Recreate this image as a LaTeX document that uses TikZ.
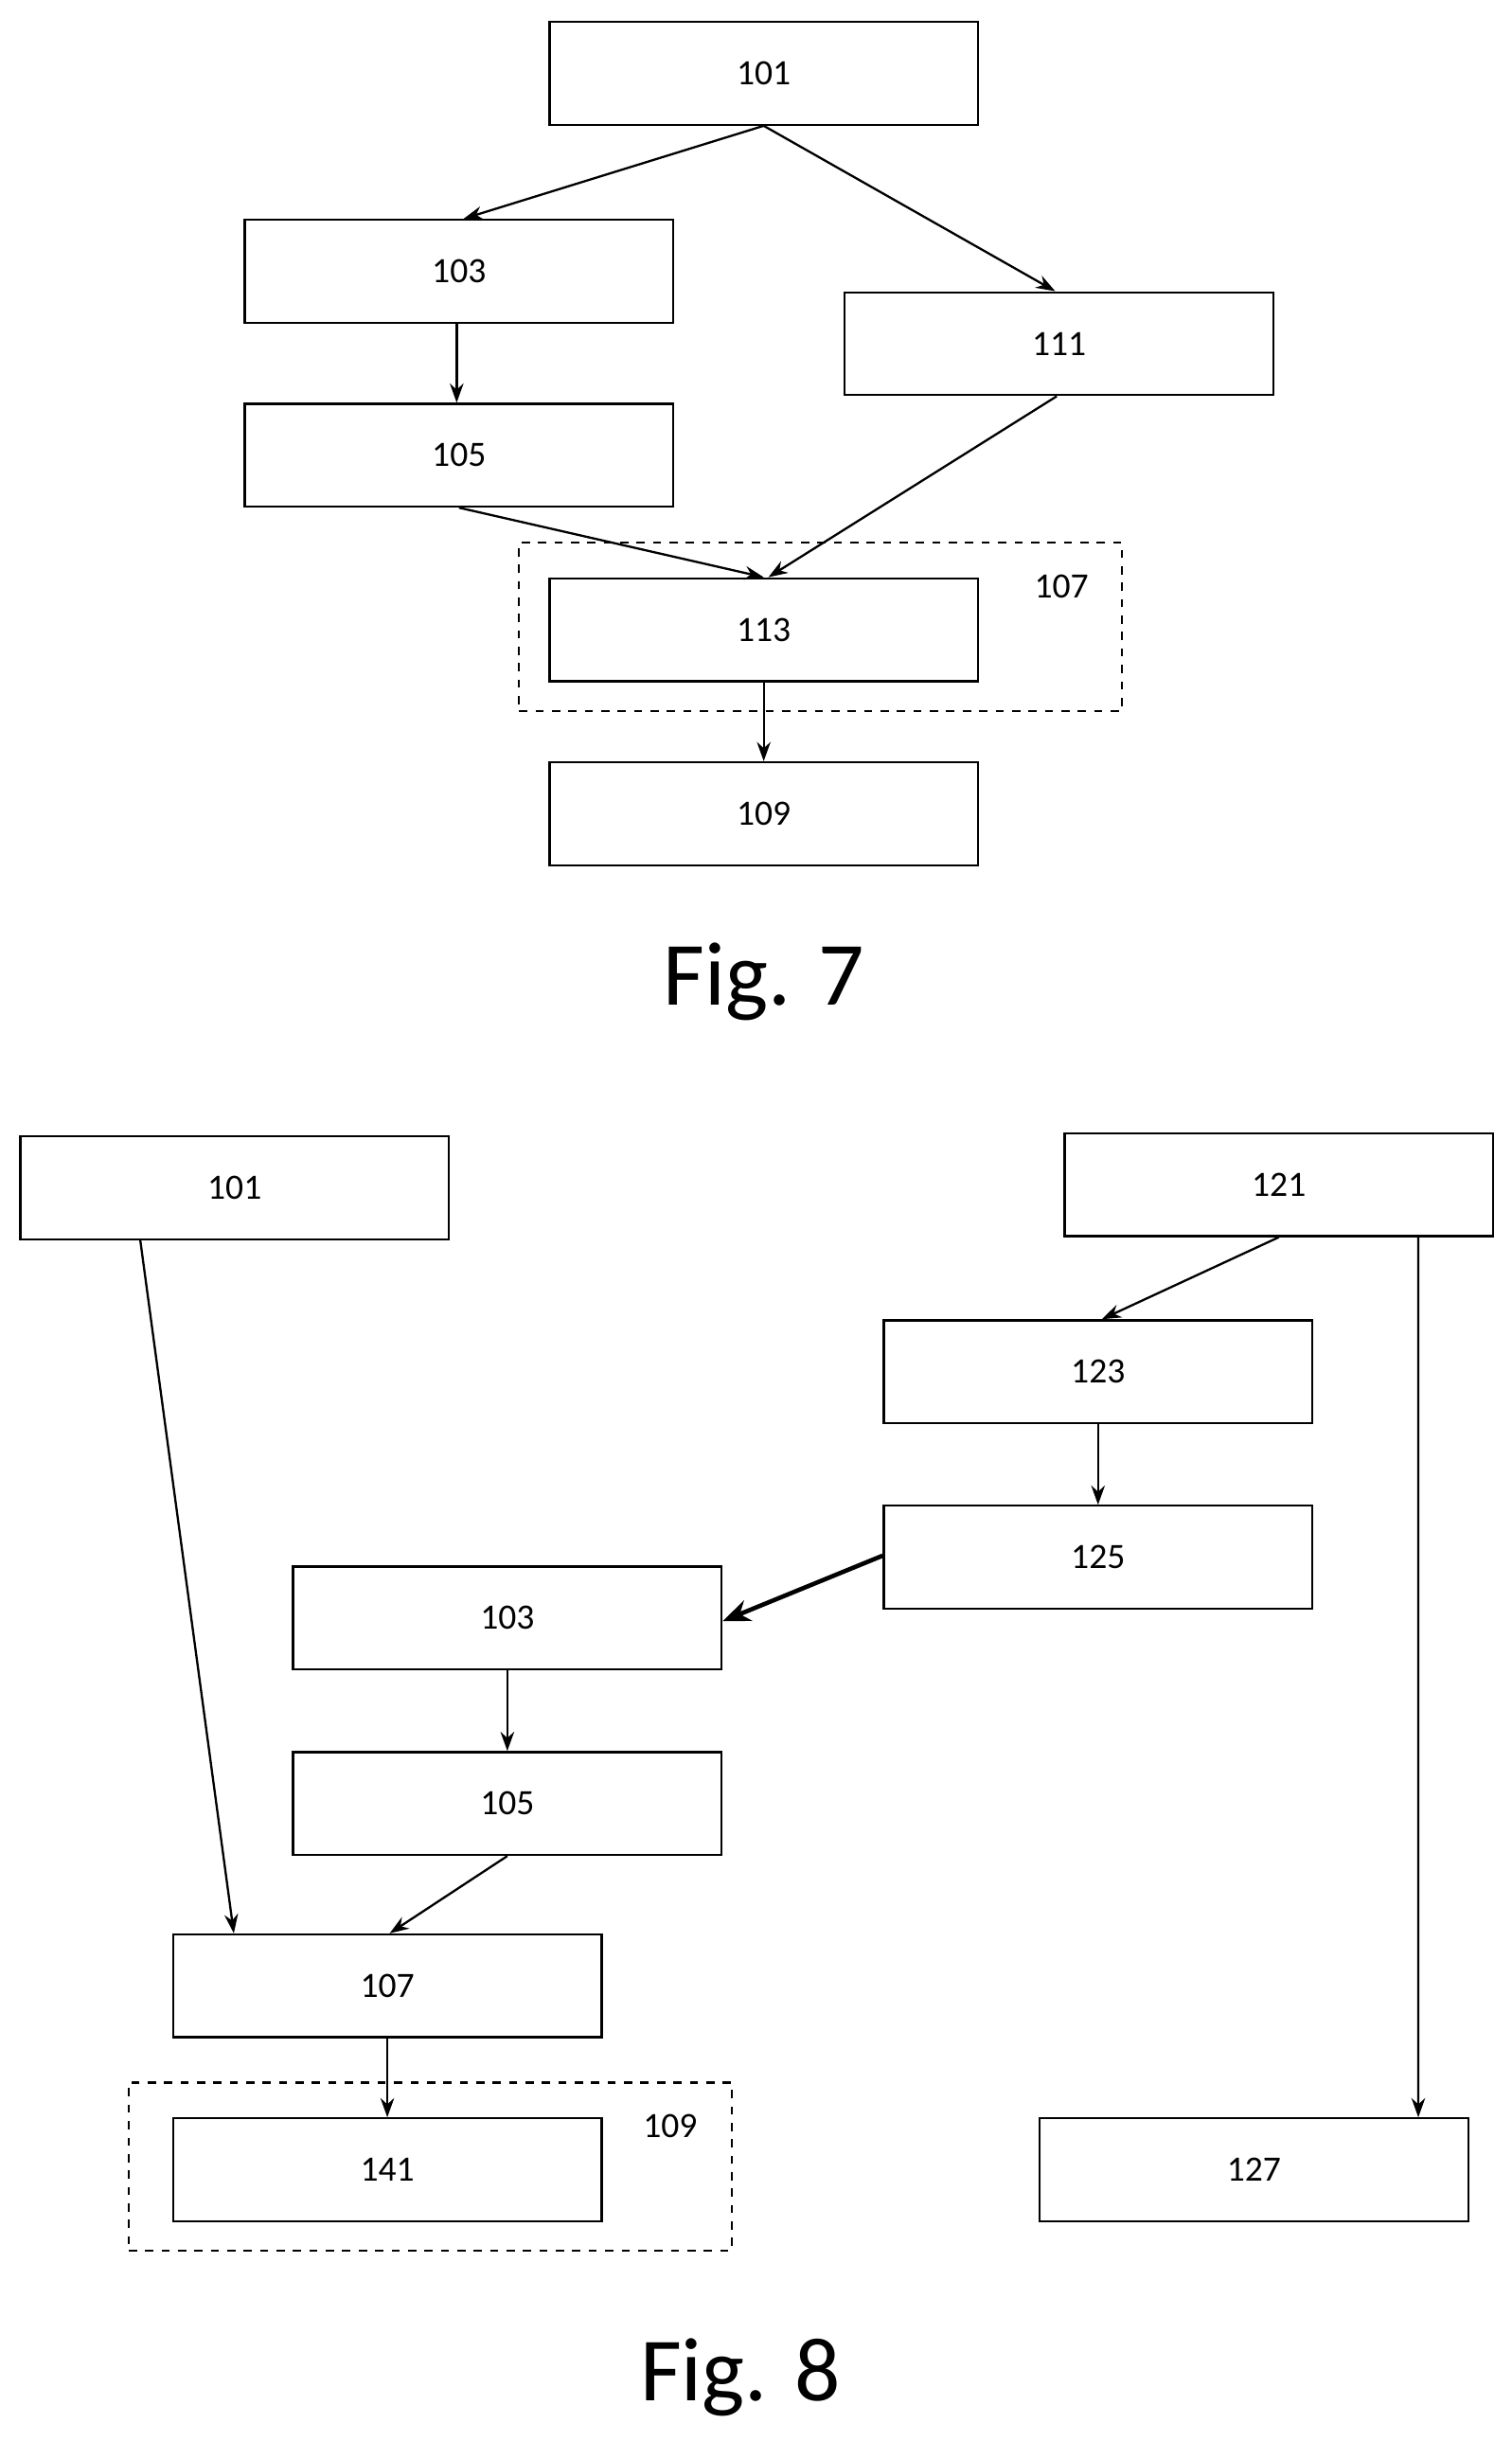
\documentclass[tikz,border=0pt]{standalone}
\usepackage{fontspec}
\setmainfont{Carlito}
\usetikzlibrary{arrows.meta}
\begin{document}
\begin{tikzpicture}[x=0.02cm,y=-0.02cm,
		box/.style={rectangle,draw,line width=0.8pt,minimum width=5.5cm,minimum height=1.32cm,inner sep=0pt,font=\fontsize{13}{13}\selectfont},
		frame/.style={rectangle,draw,dashed,line width=0.8pt,minimum width=7.74cm,minimum height=2.16cm,inner sep=0pt},
		arr/.style={-{Stealth[length=7pt,width=5pt]},line width=0.8pt},
		figcap/.style={font=\fontsize{33}{33}\selectfont}
		]
	\useasboundingbox (0,0) rectangle (970,1566);
	% Fig. 7
	\node [frame] (g107) at (526.5,402) {};
	\node [font=\fontsize{13}{13}\selectfont] (l107) at (681,376) {107};
	\node [box] (a101) at (490,47) {101};
	\node [box] (a103) at (294.5,174) {103};
	\node [box] (a111) at (679.5,220.5) {111};
	\node [box] (a105) at (294.5,292) {105};
	\node [box] (a113) at (490,404) {113};
	\node [box] (a109) at (490,522) {109};
	\node [figcap] (c7) at (490,630) {Fig. 7};
	\draw [arr] (a101.south) -- ([xshift=0.06cm]a103.north);
	\draw [arr] (a101.south) -- ([xshift=-0.05cm]a111.north);
	\draw [arr] ([xshift=-0.03cm]a103.south) -- ([xshift=-0.03cm]a105.north);
	\draw [arr] (a105.south) -- (a113.north);
	\draw [arr] ([xshift=-0.03cm]a111.south) -- ([xshift=0.06cm]a113.north);
	\draw [arr] (a113.south) -- (a109.north);
	% Fig. 8
	\node [frame] (g109) at (276,1390) {};
	\node [font=\fontsize{13}{13}\selectfont] (l109) at (430,1364) {109};
	\node [box] (b101) at (150.5,762) {101};
	\node [box] (b121) at (820.5,760) {121};
	\node [box] (b123) at (704.5,880) {123};
	\node [box] (b125) at (704.5,999) {125};
	\node [box] (b103) at (325.5,1038) {103};
	\node [box] (b105) at (325.5,1157) {105};
	\node [box] (b107) at (248.5,1274) {107};
	\node [box] (b141) at (248.5,1392) {141};
	\node [box] (b127) at (804.5,1392) {127};
	\node [figcap] (c8) at (475,1525) {Fig. 8};
	\draw [arr] ([xshift=-1.21cm]b101.south) -- ([xshift=-1.97cm]b107.north);
	\draw [arr] (b121.south) -- ([xshift=0.05cm]b123.north);
	\draw [arr] ([xshift=1.79cm]b121.south) -- ([xshift=2.11cm]b127.north);
	\draw [arr] (b123.south) -- (b125.north);
	\draw [-{Stealth[length=10pt,width=8pt]},line width=1.6pt] ([yshift=0.02cm]b125.west) -- ([yshift=-0.04cm]b103.east);
	\draw [arr] (b103.south) -- (b105.north);
	\draw [arr] (b105.south) -- ([xshift=0.03cm]b107.north);
	\draw [arr] (b107.south) -- (b141.north);
\end{tikzpicture}
\end{document}
